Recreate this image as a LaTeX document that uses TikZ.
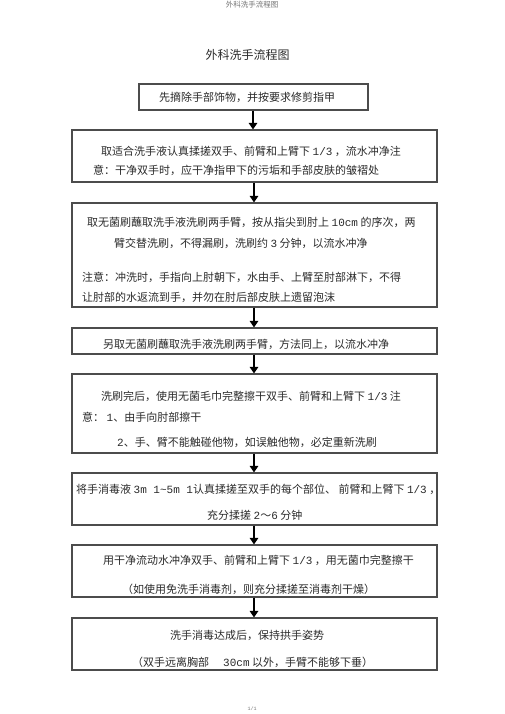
\documentclass[tikz,border=0pt]{standalone}
\usepackage{fontspec}
\setmainfont{Noto Sans CJK SC}
\newfontfamily\monof{Liberation Mono}
\newcommand{\mn}[1]{{\monof #1}}
\usetikzlibrary{arrows.meta}
\definecolor{txt}{HTML}{2A2A2A}
\tikzset{
  box/.style={draw=black!70, line width=1.2pt, inner sep=0pt, minimum width=365pt},
  box1/.style={draw=black!70, line width=1.2pt, inner sep=0pt, minimum width=229pt, minimum height=26pt},
  ln/.style={anchor=west, inner sep=0pt, text=txt, font=\fontsize{11pt}{13pt}\selectfont},
  arr/.style={-{Triangle[width=8.5pt,length=6.5pt]}, line width=2.4pt, black},
}
\begin{document}
\begin{tikzpicture}[x=1pt,y=-1pt]
\useasboundingbox (0,0) rectangle (505,714);
\node[text=black!55, font=\fontsize{7.5pt}{8pt}\selectfont, inner sep=0pt] (hdr) at (252,5) {外科洗手流程图};
\node[text=txt, font=\fontsize{12pt}{14pt}\selectfont, inner sep=0pt] (title) at (247.5,55) {外科洗手流程图};

\node[box1] (b1) at (253.5,97) {};
\node[box, minimum height=52pt] (b2) at (254.5,156) {};
\node[box, minimum height=104pt] (b3) at (254.5,255) {};
\node[box, minimum height=26pt] (b4) at (254.5,341) {};
\node[box, minimum height=79pt] (b5) at (254.5,413.5) {};
\node[box, minimum height=52pt] (b6) at (254.5,499) {};
\node[box, minimum height=52pt] (b7) at (254.5,571) {};
\node[box, minimum height=52pt] (b8) at (254.5,644) {};

\node[ln] (t1) at (159,97) {先摘除手部饰物，并按要求修剪指甲};
\node[ln] (t2a) at (101,151) {取适合洗手液认真揉搓双手、前臂和上臂下 \mn{1/3} ，流水冲净注};
\node[ln] (t2b) at (93,170) {意：干净双手时，应干净指甲下的污垢和手部皮肤的皱褶处};
\node[ln] (t3a) at (87,222) {取无菌刷蘸取洗手液洗刷两手臂，按从指尖到肘上 \mn{10cm} 的序次，两};
\node[ln] (t3b) at (114,243) {臂交替洗刷，不得漏刷，洗刷约 \mn{3} 分钟，以流水冲净};
\node[ln] (t3c) at (82,277) {注意：冲洗时，手指向上肘朝下，水由手、上臂至肘部淋下，不得};
\node[ln] (t3d) at (82,297) {让肘部的水返流到手，并勿在肘后部皮肤上遗留泡沫};
\node[ln] (t4) at (103,344) {另取无菌刷蘸取洗手液洗刷两手臂，方法同上，以流水冲净};
\node[ln] (t5a) at (101,396) {洗刷完后，使用无菌毛巾完整擦干双手、前臂和上臂下 \mn{1/3} 注};
\node[ln] (t5b) at (82,417) {意： \mn{1}、由手向肘部擦干};
\node[ln] (t5c) at (117,442) {\mn{2}、手、臂不能触碰他物，如误触他物，必定重新洗刷};
\node[ln] (t6a) at (76,489) {将手消毒液 \mn{3m 1\char`\~5m 1}认真揉搓至双手的每个部位、 前臂和上臂下 \mn{1/3} ，};
\node[ln] (t6b) at (207,515) {充分揉搓 \mn{2}～\mn{6} 分钟};
\node[ln] (t7a) at (103,560) {用干净流动水冲净双手、前臂和上臂下 \mn{1/3} ，用无菌巾完整擦干};
\node[ln] (t7b) at (122,589) {（如使用免洗手消毒剂，则充分揉搓至消毒剂干燥）};
\node[ln] (t8a) at (170,635) {洗手消毒达成后，保持拱手姿势};
\node[ln] (t8b) at (132,662) {（双手远离胸部\hspace{14pt}\mn{30cm} 以外，手臂不能够下垂）};

\node[text=black!55, font=\fontsize{5pt}{6pt}\selectfont, inner sep=0pt] (ftr) at (252,709) {\mn{1/1}};

\foreach \a/\b in {b1/b2,b2/b3,b3/b4,b4/b5,b5/b6,b6/b7,b7/b8}
  \draw[arr] ([xshift=-0.5pt]\a.south) -- ([xshift=-0.5pt]\a.south |- \b.north);
\end{tikzpicture}
\end{document}
